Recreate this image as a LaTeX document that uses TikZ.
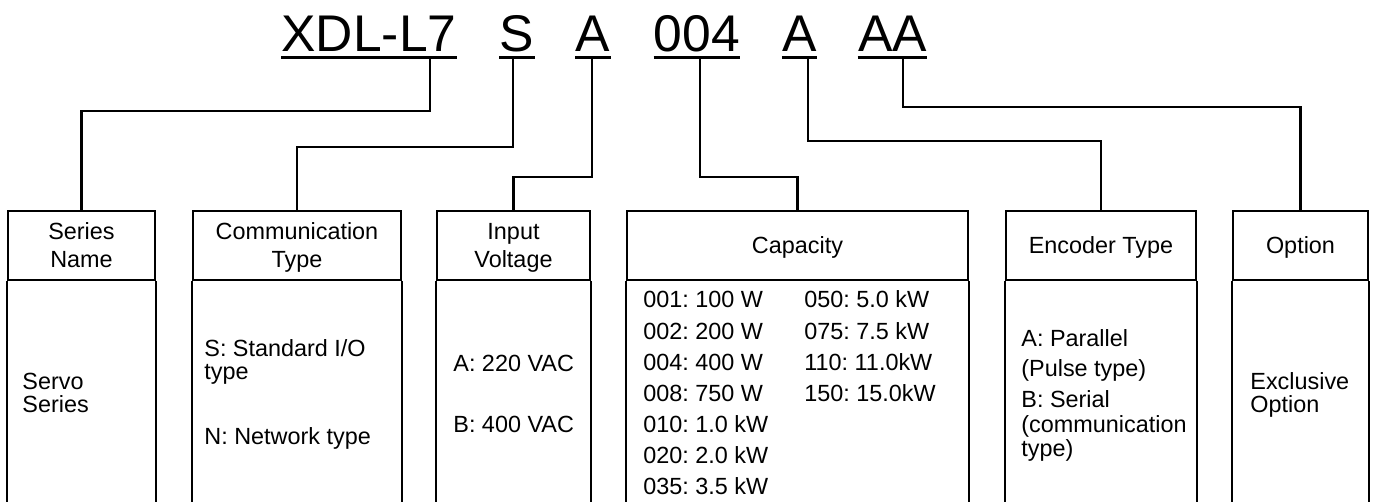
\documentclass[tikz,border=0pt]{standalone}
\usepackage{fontspec}
\setmainfont{Liberation Sans}
\frenchspacing

\begin{document}
\begin{tikzpicture}[x=0.5pt,y=-0.5pt,
  code/.style={inner sep=0pt,anchor=base,font=\fontsize{25.8}{30}\selectfont},
  ul/.style={line width=1.5pt},
  head/.style={draw,line width=1.1pt,minimum height=34.5pt,inner sep=0pt,text depth=0pt,align=center,font=\fontsize{11.7}{14}\selectfont},
  side/.style={line width=1.1pt},
  link/.style={line width=1.2pt},
  txt/.style={inner sep=0pt,anchor=base west,font=\fontsize{11.7}{14}\selectfont}]
\useasboundingbox (0,0) rectangle (1373,502);
% model code
\node[code] (cX) at (369,52) {XDL-L7};
\node[code] (cS) at (517,52) {S};
\node[code] (cA) at (593,52) {A};
\node[code] (cN) at (697,52) {004};
\node[code] (cE) at (799.5,52) {A};
\node[code] (cO) at (892.5,52) {AA};
\foreach \n in {cX,cS,cA,cN,cE,cO}
  \draw[ul] ([yshift=-3pt]\n.base west) -- ([yshift=-3pt]\n.base east);
\coordinate (kX) at (430,59);
\coordinate (kS) at (513,59);
\coordinate (kA) at (592,59);
\coordinate (kN) at (700,59);
\coordinate (kE) at (808,59);
\coordinate (kO) at (903,59);
% boxes
\node[head,minimum width=73.5pt] (hS) at (81.5,245.5) {Series\\Name};
\node[head,minimum width=104pt] (hC) at (297,245.5) {Communication\\Type};
\node[head,minimum width=76.5pt] (hV) at (513.5,245.5) {Input\\Voltage};
\node[head,minimum width=170.5pt] (hP) at (797.5,245.5) {Capacity};
\node[head,minimum width=95pt] (hE) at (1101,245.5) {Encoder Type};
\node[head,minimum width=67.5pt] (hO) at (1300.5,245.5) {Option};
\foreach \h in {hS,hC,hV,hP,hE,hO}
  \draw[side] (\h.south west) -- ++(0,230) (\h.south east) -- ++(0,230);
% connectors
\draw[link] (kX) -- ++(0,52) -| (hS.north);
\draw[link] (kS) -- ++(0,88) -| (hC.north);
\draw[link] (kA) -- ++(0,118) -| (hV.north);
\draw[link] (kN) -- ++(0,118) -| (hP.north);
\draw[link] (kE) -- ++(0,82) -| (hE.north);
\draw[link] (kO) -- ++(0,48) -| (hO.north);
% contents
\node[txt] (s1) at (22,390) {Servo};
\node[txt] (s2) at (22,413) {Series};
\node[txt] (c1) at (204,357) {S: Standard I/O};
\node[txt] (c2) at (204,380) {type};
\node[txt] (c3) at (204,445) {N: Network type};
\node[txt] (v1) at (453,372) {A: 220 VAC};
\node[txt] (v2) at (453,433) {B: 400 VAC};
\foreach \t [count=\i] in {001: 100 W,002: 200 W,004: 400 W,008: 750 W,010: 1.0 kW,020: 2.0 kW,035: 3.5 kW}
  \node[txt] (p\i) at (643,276.85+31.15*\i) {\t};
\foreach \t [count=\i] in {050: 5.0 kW,075: 7.5 kW,110: 11.0kW,150: 15.0kW}
  \node[txt] (q\i) at (804,276.85+31.15*\i) {\t};
\node[txt] (e1) at (1021,347) {A: Parallel};
\node[txt] (e2) at (1021,377) {(Pulse type)};
\node[txt] (e3) at (1021,408) {B: Serial};
\node[txt] (e4) at (1021,433) {(communication};
\node[txt] (e5) at (1021,457) {type)};
\node[txt] (o1) at (1250,390) {Exclusive};
\node[txt] (o2) at (1250,413) {Option};
\end{tikzpicture}
\end{document}
